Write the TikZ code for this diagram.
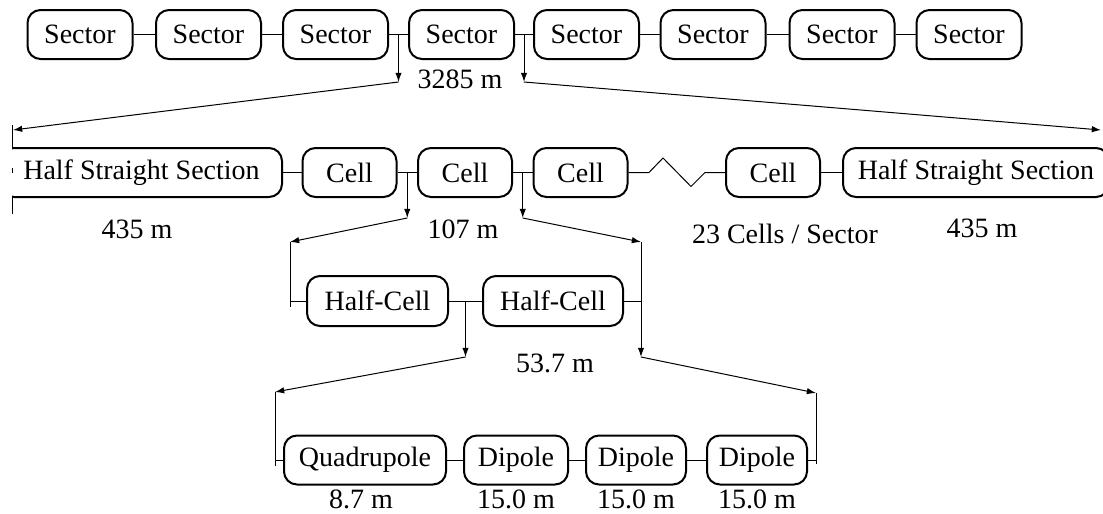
\documentclass[tikz,border=0pt]{standalone}
\usepackage{fontspec}
\setmainfont{Liberation Serif}
\usetikzlibrary{arrows.meta,calc}
\begin{document}
\begin{tikzpicture}[x=0.5pt,y=-0.5pt,
  box/.style={draw,line width=1pt,rounded corners=6.5pt,minimum height=24.5pt,inner sep=0pt,font=\fontsize{14}{16}\selectfont},
  conn/.style={line width=0.5pt},
  arr/.style={line width=0.5pt,-{Latex[length=4.6pt,width=3.2pt]}},
  lbl/.style={font=\fontsize{14}{16}\selectfont,inner sep=0pt}]
\useasboundingbox (0,0) rectangle (1103,514);
% ---------- row 1: sectors
\node[box,minimum width=52.5pt] (S1) at (80,34.5) {Sector};
\node[box,minimum width=52.5pt] (S2) at (208.5,34.5) {Sector};
\node[box,minimum width=52.5pt] (S3) at (335.5,34.5) {Sector};
\node[box,minimum width=52.5pt] (S4) at (461.5,34.5) {Sector};
\node[box,minimum width=52.5pt] (S5) at (586.5,34.5) {Sector};
\node[box,minimum width=52.5pt] (S6) at (713,34.5) {Sector};
\node[box,minimum width=52.5pt] (S7) at (842,34.5) {Sector};
\node[box,minimum width=52.5pt] (S8) at (969,34.5) {Sector};
\foreach \a/\b in {S1/S2,S2/S3,S3/S4,S4/S5,S5/S6,S6/S7,S7/S8}
  \draw[conn] (\a.east) -- (\b.west);
\coordinate (t34) at ($(S3.east)!0.5!(S4.west)$);
\coordinate (t45) at ($(S4.east)!0.5!(S5.west)$);
\coordinate (a34) at (t34 |- 0,82);
\coordinate (a45) at (t45 |- 0,82);
\coordinate (hl) at (13,130);
\coordinate (hr) at (1101,130);
\draw[arr] (t34) -- (a34);
\draw[arr] (t45) -- (a45);
\draw[arr] (a34) -- (hl);
\draw[arr] (a45) -- (hr);
\node[lbl] (l3285) at (460,79) {3285 m};
% ---------- row 2: cells
\begin{scope}
\clip (12,0) rectangle (1103,514);
\node[box,minimum width=140.5pt] (HL) at (141.5,172.5) {Half Straight Section};
\node[box,minimum width=133pt] (HR) at (976,172.5) {Half Straight Section};
\end{scope}
\coordinate (hlt) at (12,125);
\coordinate (hlb) at (12,214);
\draw[conn] (hlt) -- (12,148);
\draw[conn] (12,197) -- (hlb);
\draw[conn] (12,168) -- (12,173);
\node[box,minimum width=47pt] (C1) at (349.5,172.5) {Cell};
\node[box,minimum width=47pt] (C2) at (465,172.5) {Cell};
\node[box,minimum width=47pt] (C3) at (580.5,172.5) {Cell};
\node[box,minimum width=47pt] (C4) at (773,172.5) {Cell};
\draw[conn] (HL.east) -- (C1.west);
\draw[conn] (C1.east) -- (C2.west);
\draw[conn] (C2.east) -- (C3.west);
\draw[conn] (C4.east) -- (HR.west);
\draw[conn] (C3.east) -- (649,172.5) -- (663,158) -- (691,186.5) -- (705,172.5) -- (C4.west);
\coordinate (t12) at ($(C1.east)!0.5!(C2.west)$);
\coordinate (t23) at ($(C2.east)!0.5!(C3.west)$);
\coordinate (a12) at (t12 |- 0,218);
\coordinate (a23) at (t23 |- 0,218);
\coordinate (L3) at (290,242);
\coordinate (R3) at (641,242);
\draw[arr] (t12) -- (a12);
\draw[arr] (t23) -- (a23);
\draw[arr] (a12) -- (L3);
\draw[arr] (a23) -- (R3);
\node[lbl] (l435a) at (137,229) {435 m};
\node[lbl] (l107) at (463,229) {107 m};
\node[lbl] (l23) at (785,234) {23 Cells / Sector};
\node[lbl] (l435b) at (982,228) {435 m};
% ---------- row 3: half-cells
\node[box,minimum width=70.5pt,minimum height=25pt] (HC1) at (377.5,301) {Half-Cell};
\node[box,minimum width=70pt,minimum height=25pt] (HC2) at (553,301) {Half-Cell};
\draw[conn] (L3) -- (290,307);
\draw[conn] (HC1.west -| L3) -- (HC1.west);
\draw[conn] (HC1.east) -- (HC2.west);
\draw[conn] (HC2.east) -- (HC2.east -| R3);
\coordinate (th) at ($(HC1.east)!0.5!(HC2.west)$);
\coordinate (ah) at (th |- 0,357);
\coordinate (R3b) at (641,357);
\draw[arr] (R3) -- (R3b);
\draw[arr] (th) -- (ah);
\coordinate (L4) at (275,392);
\coordinate (R4) at (816,393);
\draw[arr] (ah) -- (L4);
\draw[arr] (R3b) -- (R4);
\node[lbl] (l537) at (555,363) {53.7 m};
% ---------- row 4: magnets
\node[box,minimum width=81pt] (Q) at (365,460) {Quadrupole};
\node[box,minimum width=52pt] (D1) at (516,460) {Dipole};
\node[box,minimum width=50pt] (D2) at (636,460) {Dipole};
\node[box,minimum width=50pt] (D3) at (757,460) {Dipole};
\draw[conn] (L4) -- (275,466);
\draw[conn] (Q.west -| L4) -- (Q.west);
\draw[conn] (Q.east) -- (D1.west);
\draw[conn] (D1.east) -- (D2.west);
\draw[conn] (D2.east) -- (D3.west);
\draw[conn] (D3.east) -- (D3.east -| R4);
\draw[conn] (R4) -- (816,464);
\node[lbl] (l87) at (361,499) {8.7 m};
\node[lbl] (l15a) at (516,499) {15.0 m};
\node[lbl] (l15b) at (636,499) {15.0 m};
\node[lbl] (l15c) at (757,499) {15.0 m};
\end{tikzpicture}
\end{document}
